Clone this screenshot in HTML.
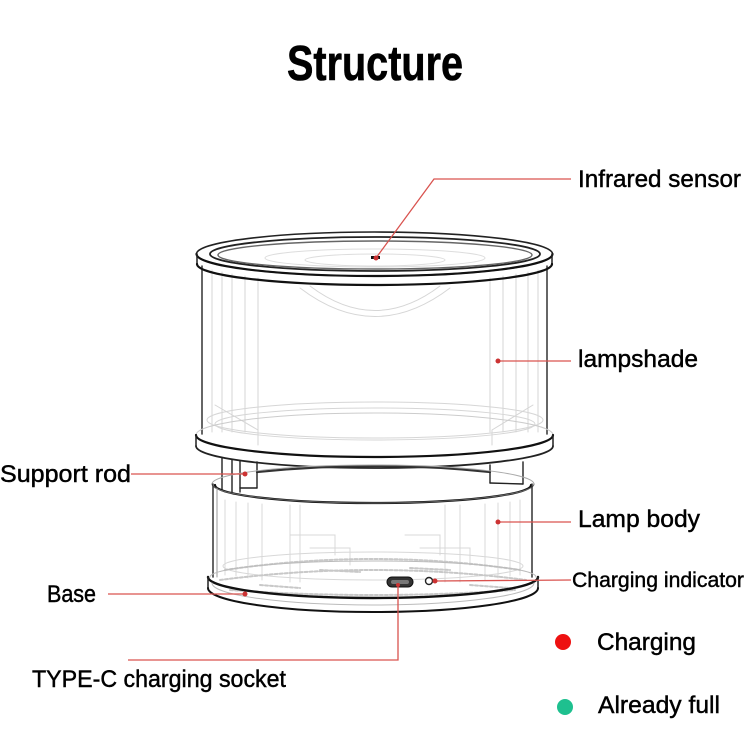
<!DOCTYPE html>
<html>
<head>
<meta charset="utf-8">
<style>
html,body{margin:0;padding:0;background:#fff;}
svg{display:block;}
text{font-family:"Liberation Sans",Arial,sans-serif;fill:#000;}
</style>
</head>
<body>
<svg width="750" height="750" viewBox="0 0 750 750" xmlns="http://www.w3.org/2000/svg">
<rect width="750" height="750" fill="#fff"/>

<!-- Title -->
<text x="287" y="80" font-size="49" font-weight="bold" textLength="176" lengthAdjust="spacingAndGlyphs" stroke="#000" stroke-width="0.6">Structure</text>

<!-- ========== LAMP DRAWING ========== -->
<g fill="none" stroke-linecap="round">
  <!-- lampshade faint inner verticals -->
  <g stroke="#d6d6d6" stroke-width="1">
    <line x1="212" y1="270" x2="212" y2="432"/>
    <line x1="222" y1="272" x2="222" y2="432"/>
    <line x1="232" y1="274" x2="232" y2="432"/>
    <line x1="245" y1="276" x2="245" y2="432"/>
    <line x1="258" y1="278" x2="258" y2="432"/>
    <line x1="490" y1="278" x2="490" y2="432"/>
    <line x1="503" y1="276" x2="503" y2="432"/>
    <line x1="516" y1="274" x2="516" y2="432"/>
    <line x1="528" y1="272" x2="528" y2="432"/>
    <line x1="538" y1="270" x2="538" y2="432"/>
    <path d="M300,288 Q375,345 450,288"/>
    <path d="M310,286 Q375,335 440,286"/>
    <ellipse cx="375" cy="420" rx="168" ry="18"/>
    <ellipse cx="375" cy="424" rx="160" ry="16"/>
    <path d="M215,405 L258,430 L258,445"/>
    <path d="M533,405 L492,430 L492,445"/>
  </g>

  <!-- lampshade sides -->
  <line x1="202" y1="266" x2="202" y2="434" stroke="#333" stroke-width="1.5"/>
  <line x1="547" y1="266" x2="547" y2="434" stroke="#333" stroke-width="1.5"/>

  <!-- top lid -->
  <ellipse cx="374.5" cy="254" rx="178" ry="22" stroke="#222" stroke-width="1.6"/>
  <path d="M196.5,254 A178,22 0 0 0 552.5,254" stroke="#111" stroke-width="2.2"/>
  <line x1="197" y1="254" x2="197" y2="264" stroke="#222" stroke-width="1.5"/>
  <line x1="552" y1="254" x2="552" y2="264" stroke="#222" stroke-width="1.5"/>
  <path d="M197,264 A177.5,21 0 0 0 552,264" stroke="#111" stroke-width="2.2"/>
  <ellipse cx="375" cy="254" rx="165" ry="17" stroke="#222" stroke-width="1.8"/>
  <ellipse cx="375" cy="255" rx="157" ry="14" stroke="#666" stroke-width="1.4"/>
  <ellipse cx="375" cy="258" rx="110" ry="9" stroke="#ddd" stroke-width="1"/>
  <ellipse cx="375" cy="260" rx="70" ry="6" stroke="#ddd" stroke-width="1"/>
  <rect x="371" y="256" width="9" height="3" fill="#111" stroke="none"/>

  <!-- middle ring -->
  <path d="M196,435 A178.5,22 0 0 1 553,435" stroke="#ccc" stroke-width="1"/>
  <path d="M196,435 A178.5,22 0 0 0 553,435" stroke="#111" stroke-width="2.2"/>
  <line x1="196" y1="435" x2="196" y2="446" stroke="#222" stroke-width="1.5"/>
  <line x1="553" y1="435" x2="553" y2="446" stroke="#222" stroke-width="1.5"/>
  <path d="M196,446 A178.5,22 0 0 0 553,446" stroke="#222" stroke-width="1.8"/>

  <!-- back of lamp body top (between rods) -->
  <path d="M257,472 Q375,460 490,472" stroke="#333" stroke-width="2.2"/>

  <!-- support rods -->
  <g stroke="#222" stroke-width="1.4">
    <line x1="222" y1="458" x2="222" y2="490"/>
    <line x1="232" y1="460" x2="232" y2="492"/>
    <line x1="240" y1="461" x2="240" y2="492"/>
    <line x1="257" y1="462" x2="257" y2="488"/>
    <line x1="240" y1="488" x2="257" y2="488"/>
    <line x1="490" y1="465" x2="490" y2="483"/>
    <line x1="523" y1="462" x2="523" y2="484"/>
    <line x1="490" y1="483" x2="523" y2="484"/>
  </g>

  <!-- lamp body faint interior -->
  <g stroke="#d8d8d8" stroke-width="1">
    <line x1="225" y1="500" x2="225" y2="575"/>
    <line x1="236" y1="502" x2="236" y2="576"/>
    <line x1="248" y1="503" x2="248" y2="578"/>
    <line x1="262" y1="504" x2="262" y2="580"/>
    <line x1="290" y1="505" x2="290" y2="582"/>
    <line x1="300" y1="505" x2="300" y2="582"/>
    <line x1="445" y1="505" x2="445" y2="582"/>
    <line x1="460" y1="505" x2="460" y2="582"/>
    <line x1="485" y1="504" x2="485" y2="580"/>
    <line x1="498" y1="503" x2="498" y2="578"/>
    <line x1="510" y1="502" x2="510" y2="576"/>
    <line x1="520" y1="500" x2="520" y2="575"/>
    <path d="M290,535 L335,535 L335,555 M310,548 L350,548 L350,565 M405,535 L440,535 L440,555 M420,548 L470,548 L470,565"/>
    <ellipse cx="373" cy="566" rx="150" ry="14"/>
  </g>
  <g stroke="#c8c8c8" stroke-width="2" stroke-dasharray="3 2">
    <path d="M225,570 Q373,548 520,570"/>
    <path d="M220,580 Q373,560 526,580"/>
    <path d="M230,590 Q373,600 515,590"/>
    <path d="M260,585 L300,588 M320,570 L360,572 M410,568 L450,570 M470,585 L510,588"/>
  </g>

  <!-- lamp body -->
  <path d="M212,484 A161,19 0 0 1 534,484" stroke="#aaa" stroke-width="1"/>
  <path d="M215,485 A158,18 0 0 0 531,485" stroke="#111" stroke-width="2.2"/>
  <path d="M212,484 A161,19 0 0 0 534,484" stroke="#666" stroke-width="1"/>
  <line x1="213" y1="484" x2="213" y2="577" stroke="#333" stroke-width="1.5"/>
  <line x1="217" y1="488" x2="217" y2="577" stroke="#999" stroke-width="1"/>
  <line x1="532" y1="484" x2="532" y2="577" stroke="#333" stroke-width="1.5"/>

  <!-- base -->
  <path d="M208,577 A165,21 0 0 0 538,577" stroke="#111" stroke-width="2.4"/>
  <path d="M210,577 A163,16 0 0 1 536,577" stroke="#bbb" stroke-width="1"/>
  <line x1="208" y1="577" x2="208" y2="588" stroke="#222" stroke-width="1.5"/>
  <line x1="538" y1="577" x2="538" y2="588" stroke="#222" stroke-width="1.5"/>
  <path d="M208,588 A165,24 0 0 0 538,588" stroke="#111" stroke-width="2"/>
  <path d="M212,583 A161,22 0 0 0 534,583" stroke="#bbb" stroke-width="1"/>

  <!-- USB-C socket & indicator hole -->
  <rect x="387" y="577" width="26" height="10" rx="5" fill="#333" stroke="#111" stroke-width="1"/>
  <rect x="391" y="580" width="18" height="4" rx="2" fill="#777" stroke="none"/>
  <circle cx="429" cy="581" r="3.5" stroke="#222" stroke-width="1.4" fill="#fff"/>
</g>

<!-- ========== LEADER LINES ========== -->
<g stroke="#d9534f" stroke-width="1.3" fill="none">
  <polyline points="376,258 434,179 571,179"/>
  <line x1="498" y1="361" x2="571" y2="361"/>
  <line x1="131" y1="474" x2="245" y2="474"/>
  <line x1="498" y1="522" x2="571" y2="522"/>
  <line x1="108" y1="594" x2="245" y2="594"/>
  <line x1="435" y1="581" x2="571" y2="580"/>
  <polyline points="398,585 398,660 128,660"/>
</g>
<g fill="#cc3333">
  <circle cx="376" cy="258" r="2.5"/>
  <circle cx="498" cy="361" r="2.5"/>
  <circle cx="245" cy="474" r="2.5"/>
  <circle cx="498" cy="522" r="2.5"/>
  <circle cx="245" cy="594" r="2.5"/>
  <circle cx="435" cy="581" r="2.5"/>
  <circle cx="398" cy="585" r="2"/>
</g>

<!-- ========== LABELS ========== -->
<g font-size="24" stroke="#000" stroke-width="0.45">
  <text x="578" y="187" textLength="163" lengthAdjust="spacingAndGlyphs">Infrared sensor</text>
  <text x="578" y="367" textLength="120" lengthAdjust="spacingAndGlyphs">lampshade</text>
  <text x="0" y="482" textLength="131" lengthAdjust="spacingAndGlyphs">Support rod</text>
  <text x="578" y="527" textLength="122" lengthAdjust="spacingAndGlyphs">Lamp body</text>
  <text x="47" y="602" textLength="49" lengthAdjust="spacingAndGlyphs">Base</text>
  <text x="32" y="687" textLength="254" lengthAdjust="spacingAndGlyphs">TYPE-C charging socket</text>
  <text x="597" y="650" textLength="99" lengthAdjust="spacingAndGlyphs">Charging</text>
  <text x="598" y="713" textLength="122" lengthAdjust="spacingAndGlyphs">Already full</text>
</g>
<text x="572" y="587" font-size="21" textLength="172" lengthAdjust="spacingAndGlyphs" stroke="#000" stroke-width="0.4">Charging indicator</text>

<!-- legend dots -->
<circle cx="563" cy="642" r="8" fill="#ee1111"/>
<circle cx="565" cy="707" r="8" fill="#1ec08f"/>
</svg>
</body>
</html>
